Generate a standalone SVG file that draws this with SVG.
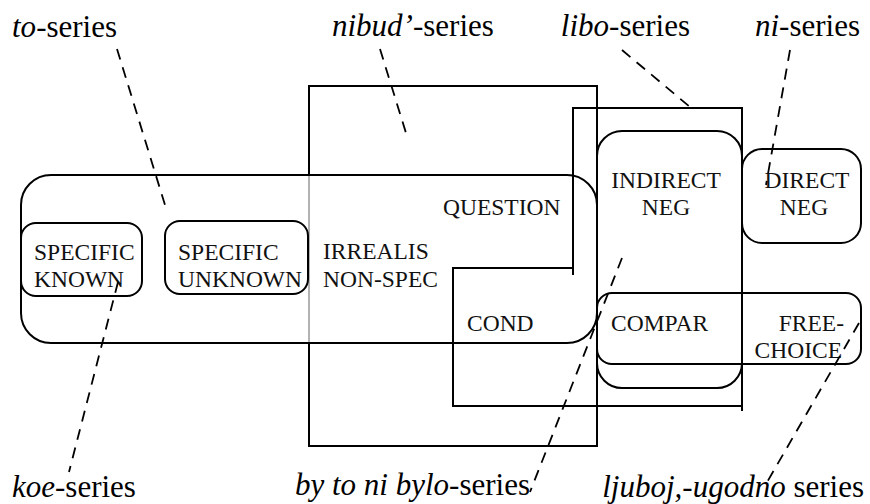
<svg xmlns="http://www.w3.org/2000/svg" width="870" height="504" viewBox="0 0 870 504">
<style>
.box{fill:none;stroke:#000;stroke-width:2}
text{font-family:'Liberation Serif','Times New Roman','DejaVu Serif',serif}
.t{font-size:23.5px;fill:#111}
.lab{font-size:31px;fill:#000}
.it{font-style:italic}
.dash{fill:none;stroke:#000;stroke-width:1.8;stroke-dasharray:11 8}
</style>
<rect width="870" height="504" fill="#fff"/>
<g id="nibud-region">
<path class="box" d="M309,175 V86 H597 V446 H309 V343"/>
<path d="M309,175 V343" fill="none" stroke="#999" stroke-width="1.5"/>
</g>
<g id="libo-region">
<path class="box" d="M573,275 V108 H742 V411 M742,406 H453 V268 H573"/>
</g>
<g id="irrealis">
<rect class="box" x="21" y="175" width="576" height="168" rx="30"/>
<text class="t" x="323" y="259">IRREALIS</text>
<text class="t" x="323" y="287">NON-SPEC</text>
</g>
<g id="specific-known">
<rect class="box" x="21" y="223" width="121" height="73" rx="15"/>
<text class="t" x="34" y="260">SPECIFIC</text>
<text class="t" x="34" y="287">KNOWN</text>
</g>
<g id="specific-unknown">
<rect class="box" x="165" y="221" width="143" height="73" rx="15"/>
<text class="t" x="178" y="260">SPECIFIC</text>
<text class="t" x="178" y="287">UNKNOWN</text>
</g>
<g id="question"><text class="t" x="443" y="215">QUESTION</text></g>
<g id="cond"><text class="t" x="467" y="331">COND</text></g>
<g id="indirect-neg">
<rect class="box" x="597" y="131" width="145" height="257" rx="25"/>
<text class="t" x="666" y="188" text-anchor="middle">INDIRECT</text>
<text class="t" x="666" y="215" text-anchor="middle">NEG</text>
</g>
<g id="direct-neg">
<rect class="box" x="742" y="149" width="119" height="94" rx="20"/>
<text class="t" x="807" y="188" text-anchor="middle">DIRECT</text>
<text class="t" x="804" y="215" text-anchor="middle">NEG</text>
</g>
<g id="compar-freechoice">
<rect class="box" x="597" y="293" width="264" height="71" rx="15"/>
<text class="t" x="611" y="331">COMPAR</text>
<text class="t" x="844" y="331" text-anchor="end">FREE-</text>
<text class="t" x="842" y="358" text-anchor="end">CHOICE</text>
</g>
<g id="labels">
<text class="lab" x="12" y="37"><tspan class="it">to</tspan>-series</text>
<text class="lab" x="332" y="36"><tspan class="it">nibud’</tspan>-series</text>
<text class="lab" x="690" y="36" text-anchor="end"><tspan class="it">libo</tspan>-series</text>
<text class="lab" x="860" y="36" text-anchor="end"><tspan class="it">ni</tspan>-series</text>
<text class="lab" x="12" y="497"><tspan class="it">koe</tspan>-series</text>
<text class="lab" x="530" y="495" text-anchor="end"><tspan class="it">by to ni bylo</tspan>-series</text>
<text class="lab" x="864" y="497" text-anchor="end"><tspan class="it">ljuboj,-ugodno</tspan> series</text>
</g>
<g id="connectors">
<line class="dash" x1="117" y1="49" x2="165" y2="205"/>
<line class="dash" x1="380" y1="49" x2="406" y2="133"/>
<line class="dash" x1="622" y1="50" x2="690" y2="107"/>
<line class="dash" x1="790" y1="50" x2="766" y2="185"/>
<line class="dash" x1="118" y1="282" x2="69" y2="472"/>
<line class="dash" x1="622" y1="258" x2="530" y2="492"/>
<line class="dash" x1="859" y1="323" x2="766" y2="484"/>
</g>
</svg>
